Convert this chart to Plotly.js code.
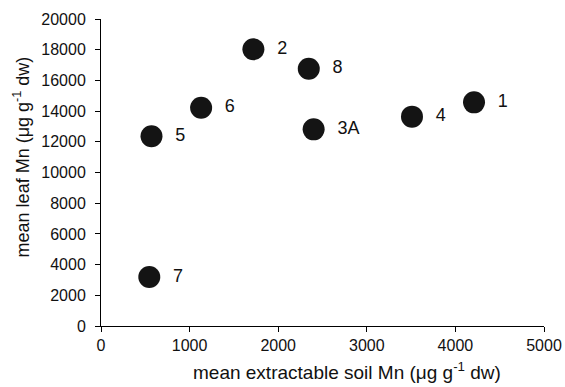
<!DOCTYPE html>
<html>
<head>
<meta charset="utf-8">
<script src="https://cdn.plot.ly/plotly-3.0.1.min.js"></script>
<style>html,body{margin:0;padding:0;background:#fff;}#chart{width:565px;height:387px;}</style>
</head>
<body>
<div id="chart"></div>
<script>
const siteLabels = ["1", "2", "3A", "4", "5", "6", "7", "8"];
const soilMn = [4210, 1720, 2400, 3510, 570, 1130, 545, 2345];
const leafMn = [14570, 18030, 12810, 13640, 12360, 14220, 3190, 16760];

const xTicks = [0, 1000, 2000, 3000, 4000, 5000];
const yTicks = [0, 2000, 4000, 6000, 8000, 10000, 12000, 14000, 16000, 18000, 20000];

const xTitle = 'mean extractable soil Mn (μg g<sup>-1</sup> dw)';
const yTitle = 'mean leaf Mn (μg g<sup>-1</sup> dw)';

const fam = 'Liberation Sans, Arial, sans-serif';

const trace = {
  x: soilMn,
  y: leafMn,
  text: siteLabels,
  texttemplate: '\u2002%{text}',
  mode: 'markers+text',
  type: 'scatter',
  textposition: 'middle right',
  textfont: {family: fam, size: 18, color: '#111'},
  marker: {size: 22, color: '#141414', line: {width: 0}},
  cliponaxis: false,
  hoverinfo: 'none'
};

const layout = {
  width: 565, height: 387,
  margin: {l: 101, r: 21, t: 19, b: 61},
  paper_bgcolor: '#fff', plot_bgcolor: '#fff',
  showlegend: false,
  font: {family: fam, color: '#111'},
  xaxis: {
    range: [0, 5000], tickvals: xTicks, ticktext: xTicks.map(String),
    showgrid: false, zeroline: false, showline: true, linecolor: '#000', linewidth: 1,
    ticks: 'outside', ticklen: 5, tickcolor: '#000', tickwidth: 1,
    tickfont: {family: fam, size: 16, color: '#111'}
  },
  yaxis: {
    range: [0, 20000], tickvals: yTicks, ticktext: yTicks.map(String),
    showgrid: false, zeroline: false, showline: true, linecolor: '#000', linewidth: 1,
    ticks: 'outside', ticklen: 5, tickcolor: '#000', tickwidth: 1,
    ticklabelstandoff: 6,
    tickfont: {family: fam, size: 16, color: '#111'}
  },
  annotations: [
    {text: xTitle, xref: 'paper', yref: 'paper', x: 0.5546, y: -0.145,
     xanchor: 'center', yanchor: 'middle', showarrow: false,
     font: {family: fam, size: 19, color: '#111'}},
    {text: yTitle, xref: 'paper', yref: 'paper', x: -0.18, y: 0.55,
     xanchor: 'center', yanchor: 'middle', textangle: -90, showarrow: false,
     font: {family: fam, size: 18, color: '#111'}}
  ]
};

Plotly.newPlot('chart', [trace], layout, {staticPlot: true, displayModeBar: false});
</script>
</body>
</html>
